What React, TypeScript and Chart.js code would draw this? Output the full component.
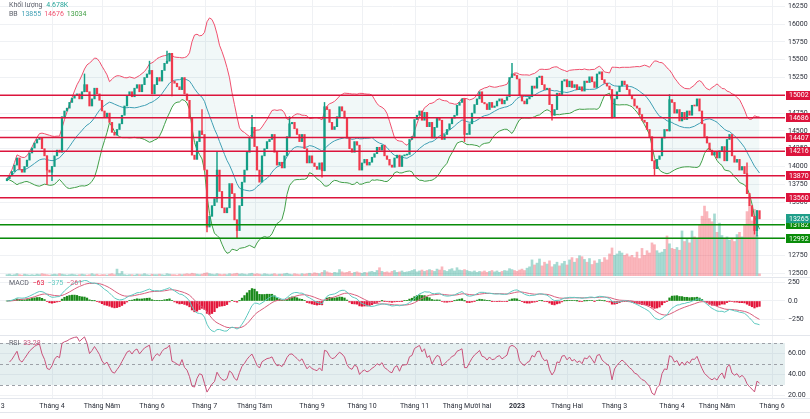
import React, { useEffect, useRef } from "react";
import { Chart, registerables } from "chart.js";

Chart.register(...registerables);

// ------------------------- data -------------------------
const firstOpen = 13800;
const closes: number[] = [
  13830, 13870, 13930, 14020, 14120, 13960, 13920, 14000, 14090, 14190,
  14260, 14330, 14380, 14400, 14250, 14150, 13950, 13920, 14000, 14150,
  14230, 14200, 14700, 14780, 14820, 14900, 14960, 15000, 15020, 14950,
  15050, 15150, 15050, 14850, 14950, 15100, 15020, 14930, 14780, 14700,
  14750, 14620, 14480, 14440, 14520, 14600, 14720, 14850, 15000, 15050,
  14980, 15100, 15150, 15050, 15150, 15250, 15300, 15350, 15020, 15150,
  15250, 15200, 15350, 15450, 15480, 15590, 15200, 15170, 15120, 15080,
  15250, 15020, 14930, 14680, 14160, 14100, 14350, 14500, 14450, 13950,
  13150, 13300, 13450, 13550, 13950, 13650, 13420, 13350, 13420, 13760,
  13620, 13250, 13100, 13450, 13780, 13950, 14200, 14400, 14550, 14280,
  13950, 13780, 14150, 14250, 14350, 14380, 14450, 14200, 14020, 14060,
  13980, 14150, 14420, 14600, 14620, 14530, 14450, 14350, 14450, 14250,
  14050, 14150, 14050, 14000, 13960, 14050, 13940, 14840, 14800, 14620,
  14520, 14560, 14700, 14840, 14780, 14680, 14400, 14250, 14200, 14350,
  14300, 13950, 14050, 14100, 14020, 14060, 14130, 14180, 14270, 14230,
  14300, 14150, 14100, 14020, 13990, 14120, 14160, 14000, 14150, 14160,
  14170, 14380, 14420, 14660, 14720, 14780, 14650, 14760, 14560, 14620,
  14400, 14550, 14680, 14650, 14380, 14450, 14520, 14600, 14680, 14720,
  14860, 14900, 14950, 14450, 14450, 14600, 14750, 14870, 14950, 15050,
  14900, 14880, 14800, 14900, 14830, 14850, 14920, 14950, 14880, 14930,
  14980, 15250, 15300, 15280, 15230, 15000, 14920, 14880, 14950, 14980,
  15130, 15100, 15250, 15270, 15150, 15080, 15100, 14870, 14720, 14800,
  15030, 15010, 15200, 15220, 15120, 15200, 15110, 15150, 15080, 15120,
  15060, 15200, 15180, 15260, 15190, 15110, 15300, 15330, 15220, 15170,
  15130, 15080, 14700, 14950, 15050, 15130, 15200, 15150, 15080, 15000,
  14950, 14850, 14820, 14730, 14650, 14620, 14520, 14420, 14080, 13970,
  14100, 14150, 14400, 14520, 14500, 14940, 14900, 14750, 14800, 14640,
  14760, 14660, 14780, 14720, 14860, 14850, 14950, 14780, 14600, 14420,
  14330, 14230, 14160, 14200, 14120, 14220, 14280, 14080, 14380, 14450,
  14150, 14060, 14100, 13950, 14000, 13900, 13620, 13450, 13300, 13100,
  13380, 13265,
];
// volume in thousands
const volumes: number[] = [
  3, 4, 2, 3, 5, 3, 2, 4, 3, 2,
  3, 2, 4, 3, 5, 4, 3, 2, 3, 4,
  3, 5, 4, 3, 2, 3, 4, 3, 2, 3,
  4, 3, 2, 3, 5, 3, 4, 2, 3, 3,
  2, 4, 5, 3, 15, 5, 10, 3, 2, 3,
  3, 2, 4, 3, 3, 5, 3, 2, 4, 3,
  3, 4, 3, 2, 5, 4, 3, 3, 2, 4,
  3, 4, 5, 4, 6, 5, 4, 3, 4, 6,
  7, 5, 4, 3, 5, 4, 3, 4, 3, 5,
  4, 5, 6, 4, 5, 4, 3, 5, 6, 4,
  5, 4, 3, 5, 4, 3, 4, 5, 3, 4,
  4, 5, 6, 4, 3, 5, 4, 3, 5, 4,
  5, 6, 5, 7, 6, 5, 8, 12, 9, 7,
  6, 8, 7, 14, 9, 7, 8, 10, 6, 8,
  9, 7, 6, 8, 7, 9, 10, 8, 12, 18,
  10, 8, 9, 7, 10, 12, 8, 9, 11, 8,
  9, 10, 12, 14, 9, 11, 13, 10, 12, 14,
  12, 10, 15, 13, 20, 12, 10, 14, 16, 11,
  18, 13, 12, 14, 12, 10, 9, 11, 8, 10,
  9, 11, 8, 10, 12, 9, 11, 8, 10, 12,
  11, 16, 14, 12, 10, 13, 15, 12, 17, 20,
  35, 24, 28, 37, 22, 30, 26, 33, 20, 25,
  30, 22, 27, 32, 24, 35, 40, 30, 38, 44,
  42, 36, 30, 38, 25, 33, 28, 36, 30, 40,
  35, 48, 61, 45, 48, 54, 50, 45, 48, 42,
  45, 40, 52, 38, 60, 45, 55, 50, 72, 68,
  55, 50, 52, 58, 87, 70, 60, 58, 62, 56,
  98, 75, 80, 72, 98, 85, 80, 110, 130, 152,
  140, 125, 118, 135, 95, 115, 88, 80, 85, 78,
  82, 75, 90, 95, 85, 110, 140, 152, 120, 145,
  88, 4.678,
];
const wickIdx = [16, 18, 31, 57, 64, 66, 78, 80, 84, 92, 98, 113, 126, 127, 183, 202, 218, 242, 259, 265, 296, 299, 300];
const wickLow: (number | null)[] = [13750, 13800, null, null, null, 14990, null, 13080, 13500, 12990, null, null, 13850, null, 14350, null, 14650, 14680, 13880, null, null, 13050, 13020];
const wickHigh: (number | null)[] = [null, null, 15300, 15480, 15620, null, 14800, null, 14200, null, 14720, 14700, null, 14900, null, 15450, null, null, null, 15010, 14050, null, null];

const redLevels = [15002, 14686, 14407, 14216, 13870, 13560];
const greenLevels = [13182, 12992];
const priceTicks = [12500, 12750, 13000, 13250, 13500, 13750, 14000, 14250, 14500, 14750, 15000, 15250, 15500, 15750, 16000, 16250];
const macdTicks = [250, 0, -250];
const macdTickLabels = ["250", "0.0", "\u2212250"];
const rsiTicks = [60, 40, 20];
const monthIdx = [-6, 18, 38, 58, 79, 99, 122, 142, 163, 184, 204, 224, 243, 266, 284, 306];
const monthLabels = ["Tháng 3", "Tháng 4", "Tháng Năm", "Tháng 6", "Tháng 7", "Tháng Tám", "Tháng 9", "Tháng 10", "Tháng 11", "Tháng Mười hai", "2023", "Tháng Hai", "Tháng 3", "Tháng 4", "Tháng Năm", "Tháng 6"];
const volumeLegend = "4.678K";
const bbLegend = ["13855", "14676", "13034"];
const macdLegend = ["\u221263", "\u2212375", "\u2212261"];
const rsiLegend = "33.28";

// ------------------------- style -------------------------
const X_MIN = -2.8;
const X_MAX = 311.2;
const AXIS_W = 25;
const FONT = "Roboto, 'Noto Sans', sans-serif";
const UP = "#149e86";
const DOWN = "#f03a4d";
const VOL_UP = "rgba(8,153,129,0.36)";
const VOL_DOWN = "rgba(242,54,69,0.36)";
const BB_UP_C = "#f0506e";
const BB_MID_C = "#3f9fb4";
const BB_LOW_C = "#43a047";
const BB_FILL = "rgba(0,128,128,0.055)";
const LVL_RED = "#dc143c";
const LVL_GREEN = "#098c09";
const MACD_C = "#5fc9c0";
const SIG_C = "#d9607e";
const H_UP = "#1b8a1b";
const H_DN = "#e3173c";
const RSI_C = "#c9527a";
const RSI_BAND = "rgba(126,176,180,0.2)";
const DASH = "#9da1a8";
const GRID = "#eff1f4";
const TXT = "#2a2e39";

// ------------------------- indicators -------------------------
const N = closes.length;
const opens = closes.map((c, i) => (i === 0 ? firstOpen : closes[i - 1]));

function bollinger(arr: number[], len: number, mult: number) {
  const mid: number[] = [], up: number[] = [], lo: number[] = [];
  for (let i = 0; i < arr.length; i++) {
    const w = arr.slice(Math.max(0, i - len + 1), i + 1);
    const m = w.reduce((a, b) => a + b, 0) / w.length;
    const sd = Math.sqrt(w.reduce((a, b) => a + (b - m) * (b - m), 0) / w.length);
    mid.push(m); up.push(m + mult * sd); lo.push(m - mult * sd);
  }
  return { mid, up, lo };
}
function ema(arr: number[], len: number) {
  const k = 2 / (len + 1);
  let e = arr[0];
  return arr.map((v, i) => (i === 0 ? e : (e = v * k + e * (1 - k))));
}
const bb = bollinger(closes, 20, 2);
const e12 = ema(closes, 12);
const e26 = ema(closes, 26);
const macd = e12.map((v, i) => v - e26[i]);
const signal = ema(macd, 9);
const hist = macd.map((v, i) => v - signal[i]);

function rsiCalc(arr: number[], len: number) {
  const ch = arr.slice(1).map((v, i) => v - arr[i]);
  const seed = ch.slice(0, len).reduce((a, b) => a + Math.abs(b), 0) / len / 2;
  let ag = seed, al = seed;
  const out: (number | null)[] = [null];
  for (let i = 0; i < ch.length; i++) {
    const g = Math.max(ch[i], 0), l = Math.max(-ch[i], 0);
    ag = (ag * (len - 1) + g) / len;
    al = (al * (len - 1) + l) / len;
    out.push(al === 0 ? 100 : 100 - 100 / (1 + ag / al));
  }
  return out;
}
const rsi = rsiCalc(closes, 14);

// ------------------------- helpers -------------------------
const xScale = () => ({ type: "linear", min: X_MIN, max: X_MAX, display: false, offset: false });

function yAxis(min: number, max: number, ticks: number[], labels: (v: number) => string) {
  return {
    position: "right",
    min,
    max,
    afterBuildTicks: (s: any) => { s.ticks = ticks.map((v) => ({ value: v })); },
    afterFit: (s: any) => { s.width = AXIS_W; s.paddingTop = 0; s.paddingBottom = 0; },
    grid: { color: GRID, drawTicks: false },
    border: { display: false },
    ticks: { padding: 3, autoSkip: false, color: TXT, font: { size: 7, family: FONT }, callback: (v: any) => labels(Number(v)) },
  };
}

const monthGrid = {
  id: "monthGrid",
  beforeDatasetsDraw(chart: any) {
    const { ctx, chartArea, scales } = chart;
    ctx.save();
    ctx.strokeStyle = GRID;
    ctx.lineWidth = 1;
    monthIdx.forEach((m) => {
      const px = Math.round(scales.x.getPixelForValue(m)) + 0.5;
      if (px < chartArea.left || px > chartArea.right) return;
      ctx.beginPath();
      ctx.moveTo(px, chartArea.top);
      ctx.lineTo(px, chartArea.bottom);
      ctx.stroke();
    });
    ctx.restore();
  },
};

function drawTag(ctx: any, x: number, y: number, text: string, bg: string) {
  ctx.fillStyle = bg;
  ctx.fillRect(x, Math.round(y - 4.5), AXIS_W - 1, 9);
  ctx.fillStyle = "#ffffff";
  ctx.font = `7px ${FONT}`;
  ctx.textAlign = "left";
  ctx.textBaseline = "middle";
  ctx.fillText(text, x + 3, y + 0.5);
}

const levelsPlugin = {
  id: "levels",
  afterDatasetsDraw(chart: any) {
    const { ctx, chartArea, scales } = chart;
    ctx.save();
    ctx.lineWidth = 1.5;
    const draw = (v: number, c: string) => {
      const py = scales.y.getPixelForValue(v);
      ctx.strokeStyle = c;
      ctx.beginPath();
      ctx.moveTo(chartArea.left, py);
      ctx.lineTo(chartArea.right, py);
      ctx.stroke();
    };
    redLevels.forEach((v) => draw(v, LVL_RED));
    greenLevels.forEach((v) => draw(v, LVL_GREEN));
    ctx.restore();
  },
  afterDraw(chart: any) {
    const { ctx, chartArea, scales } = chart;
    ctx.save();
    const x = chartArea.right + 1;
    redLevels.forEach((v) => drawTag(ctx, x, scales.y.getPixelForValue(v), String(v), LVL_RED));
    greenLevels.forEach((v) => drawTag(ctx, x, scales.y.getPixelForValue(v), String(v), LVL_GREEN));
    const last = closes[N - 1];
    drawTag(ctx, x, scales.y.getPixelForValue(last), String(last), "#1f9e89");
    ctx.restore();
  },
};

const rsiBand = {
  id: "rsiBand",
  beforeDatasetsDraw(chart: any) {
    const { ctx, chartArea, scales } = chart;
    const y70 = scales.y.getPixelForValue(70);
    const y50 = scales.y.getPixelForValue(50);
    const y30 = scales.y.getPixelForValue(30);
    ctx.save();
    ctx.fillStyle = RSI_BAND;
    ctx.fillRect(chartArea.left, y70, chartArea.right - chartArea.left, y30 - y70);
    ctx.strokeStyle = DASH;
    ctx.lineWidth = 1;
    ctx.setLineDash([3, 3]);
    [y70, y50, y30].forEach((py) => {
      ctx.beginPath();
      ctx.moveTo(chartArea.left, Math.round(py) + 0.5);
      ctx.lineTo(chartArea.right, Math.round(py) + 0.5);
      ctx.stroke();
    });
    ctx.restore();
  },
  afterDraw(chart: any) {
    const { ctx, scales } = chart;
    ctx.save();
    ctx.fillStyle = TXT;
    ctx.textAlign = "center";
    ctx.textBaseline = "middle";
    monthIdx.forEach((m, k) => {
      ctx.font = (monthLabels[k] === "2023" ? "bold " : "") + `7px ${FONT}`;
      ctx.fillText(monthLabels[k], scales.x.getPixelForValue(m), 70);
    });
    ctx.restore();
  },
};

const base = {
  responsive: false,
  animation: false,
  events: [],
  layout: { padding: 0 },
  plugins: { legend: { display: false }, tooltip: { enabled: false } },
};

export default function App() {
  const r1 = useRef<HTMLCanvasElement>(null);
  const r2 = useRef<HTMLCanvasElement>(null);
  const r3 = useRef<HTMLCanvasElement>(null);

  useEffect(() => {
    Chart.defaults.font.family = FONT;
    const dir = closes.map((c, i) => c >= opens[i]);

    const c1 = new Chart(r1.current as any, {
      type: "bar",
      data: {
        datasets: [
          {
            type: "bar", yAxisID: "yv", order: 6, grouped: false, barThickness: 2,
            data: volumes.map((v, i) => ({ x: i, y: v })),
            backgroundColor: dir.map((u) => (u ? VOL_UP : VOL_DOWN)),
          },
          {
            type: "line", yAxisID: "y", order: 5, data: bb.up.map((v, i) => ({ x: i, y: v })),
            borderColor: BB_UP_C, borderWidth: 1, pointRadius: 0, fill: "+1", backgroundColor: BB_FILL,
          },
          {
            type: "line", yAxisID: "y", order: 5, data: bb.lo.map((v, i) => ({ x: i, y: v })),
            borderColor: BB_LOW_C, borderWidth: 1, pointRadius: 0, fill: false,
          },
          {
            type: "line", yAxisID: "y", order: 4, data: bb.mid.map((v, i) => ({ x: i, y: v })),
            borderColor: BB_MID_C, borderWidth: 1, pointRadius: 0, fill: false,
          },
          {
            type: "bar", yAxisID: "y", order: 2, grouped: false, barThickness: 0.8,
            data: wickIdx.map((i, k) => ({
              x: i,
              y: [wickLow[k] ?? Math.min(opens[i], closes[i]), wickHigh[k] ?? Math.max(opens[i], closes[i])],
            })),
            backgroundColor: wickIdx.map((i) => (dir[i] ? UP : DOWN)),
          },
          {
            type: "bar", yAxisID: "y", order: 1, grouped: false, barThickness: 1.6, minBarLength: 1,
            data: closes.map((c, i) => ({ x: i, y: [opens[i], c] })),
            backgroundColor: dir.map((u) => (u ? UP : DOWN)),
          },
        ],
      } as any,
      options: {
        ...base,
        layout: { padding: { bottom: 1 } },
        scales: {
          x: xScale(),
          y: yAxis(12462, 16339, priceTicks, (v) => String(v)),
          yv: { display: false, min: 0, max: 600 },
        },
      } as any,
      plugins: [monthGrid, levelsPlugin],
    });

    const c2 = new Chart(r2.current as any, {
      type: "bar",
      data: {
        datasets: [
          {
            type: "line", order: 1, data: macd.map((v, i) => ({ x: i, y: v })),
            borderColor: MACD_C, borderWidth: 1, pointRadius: 0,
          },
          {
            type: "line", order: 2, data: signal.map((v, i) => ({ x: i, y: v })),
            borderColor: SIG_C, borderWidth: 1, pointRadius: 0,
          },
          {
            type: "bar", order: 3, grouped: false, barThickness: 1.6,
            data: hist.map((v, i) => ({ x: i, y: v })),
            backgroundColor: hist.map((v) => (v >= 0 ? H_UP : H_DN)),
          },
        ],
      } as any,
      options: {
        ...base,
        scales: {
          x: xScale(),
          y: yAxis(-462, 326, macdTicks, (v) => macdTickLabels[macdTicks.indexOf(v)] ?? String(v)),
        },
      } as any,
      plugins: [monthGrid],
    });

    const c3 = new Chart(r3.current as any, {
      type: "line",
      data: {
        datasets: [
          {
            data: rsi.map((v, i) => ({ x: i, y: v })),
            borderColor: RSI_C, borderWidth: 1, pointRadius: 0, fill: false,
          },
        ],
      } as any,
      options: {
        ...base,
        layout: { padding: { bottom: 21 } },
        scales: {
          x: xScale(),
          y: yAxis(17.6, 76.7, rsiTicks, (v) => v.toFixed(2)),
        },
      } as any,
      plugins: [monthGrid, rsiBand],
    });

    return () => { c1.destroy(); c2.destroy(); c3.destroy(); };
  }, []);

  const abs = (top: number, h: number): React.CSSProperties => ({ position: "absolute", left: 0, top, width: 810, height: h, display: "block" });
  const line = (top: number): React.CSSProperties => ({ position: "absolute", left: 0, top, width: 810, height: 1, background: "#e3e6ec" });
  const legend: React.CSSProperties = { position: "absolute", left: 9, fontSize: 7, lineHeight: "9px", color: "#5d606b", whiteSpace: "nowrap", fontFamily: FONT };

  return (
    <div style={{ position: "absolute", left: 0, top: 0, width: 810, height: 419, background: "#fff", overflow: "hidden", fontFamily: FONT }}>
      <canvas ref={r1} width={810} height={277} style={abs(0, 277)} />
      <canvas ref={r2} width={810} height={58} style={abs(277, 58)} />
      <canvas ref={r3} width={810} height={83} style={abs(336, 83)} />
      <div style={line(277)} />
      <div style={line(335)} />
      <div style={line(398)} />
      <div style={line(412)} />
      <div style={{ ...legend, top: 0.5 }}>
        Khối lượng <span style={{ color: "#26a69a", marginLeft: 2 }}>{volumeLegend}</span>
      </div>
      <div style={{ ...legend, top: 9.5 }}>
        BB <span style={{ color: BB_MID_C, marginLeft: 2 }}>{bbLegend[0]}</span>
        <span style={{ color: BB_UP_C, marginLeft: 3 }}>{bbLegend[1]}</span>
        <span style={{ color: BB_LOW_C, marginLeft: 3 }}>{bbLegend[2]}</span>
      </div>
      <div style={{ ...legend, top: 278.5 }}>
        MACD <span style={{ color: H_DN, marginLeft: 2 }}>{macdLegend[0]}</span>
        <span style={{ color: MACD_C, marginLeft: 3 }}>{macdLegend[1]}</span>
        <span style={{ color: SIG_C, marginLeft: 3 }}>{macdLegend[2]}</span>
      </div>
      <div style={{ ...legend, top: 338.5 }}>
        RSI <span style={{ color: RSI_C, marginLeft: 2 }}>{rsiLegend}</span>
      </div>
    </div>
  );
}
